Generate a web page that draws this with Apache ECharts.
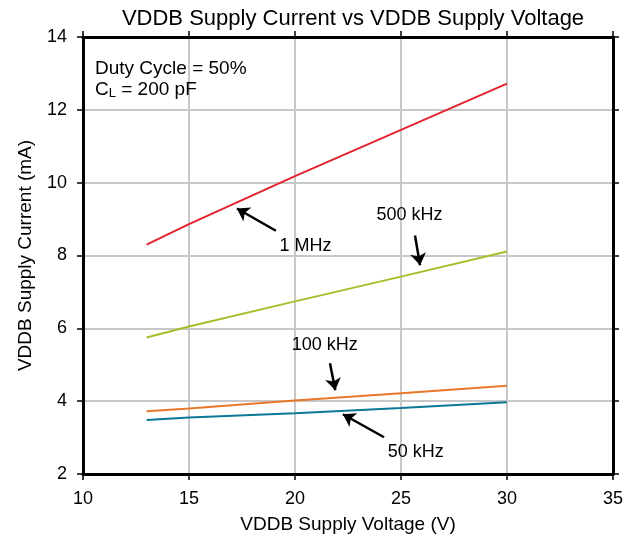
<!DOCTYPE html>
<html>
<head>
<meta charset="utf-8">
<script src="https://cdn.jsdelivr.net/npm/echarts@6/dist/echarts.min.js"></script>
<style>
  html, body { margin: 0; padding: 0; background: #fff; }
  #chart { width: 644px; height: 540px; }
</style>
</head>
<body>
<div id="chart"></div>
<script>
// supply voltage (V)
const voltage = [13, 15, 20, 25, 30];
// supply current (mA) per switching frequency
const current1MHz = [8.3, 8.86, 10.18, 11.45, 12.72];
const current500k = [5.75, 6.05, 6.74, 7.42, 8.11];
const current100k = [3.72, 3.8, 4.02, 4.22, 4.42];
const current50k = [3.48, 3.55, 3.67, 3.81, 3.97];

const seriesNames = ['1 MHz', '500 kHz', '100 kHz', '50 kHz'];
const seriesColors = ['#e2232d', '#a5bf2b', '#e8782a', '#0b7896'];

// callouts: label position, arrow tail, arrow head (data coords)
const calloutText = ['1 MHz', '500 kHz', '100 kHz', '50 kHz'];
const calloutLabel = [[20.5, 8.27], [25.4, 9.1], [21.4, 5.55], [25.7, 2.6]];
const calloutFrom = [[19.1, 8.68], [25.66, 8.55], [21.65, 5.04], [24.2, 3.01]];
const calloutTo = [[17.26, 9.29], [25.9, 7.73], [21.9, 4.3], [22.26, 3.64]];

const font = '"Liberation Sans", Arial, sans-serif';
const chart = echarts.init(document.getElementById('chart'));

const zip = (xs, ys) => xs.map((x, i) => [x, ys[i]]);
const allCurrents = [current1MHz, current500k, current100k, current50k];

const lineSeries = allCurrents.map((ys, i) => ({
  name: seriesNames[i],
  type: 'line',
  data: zip(voltage, ys),
  showSymbol: false,
  lineStyle: { color: seriesColors[i], width: 2 },
  z: 3
}));

const calloutSeries = {
  type: 'scatter',
  symbolSize: 0,
  itemStyle: { opacity: 1 },
  data: calloutLabel.map((p, i) => ({ value: p, name: calloutText[i] })),
  label: {
    show: true,
    position: 'inside',
    formatter: p => p.name,
    color: '#000',
    opacity: 1,
    fontFamily: font,
    fontSize: 18
  },
  markLine: {
    silent: true,
    symbol: ['none', 'arrow'],
    symbolSize: [12, 12],
    label: { show: false },
    lineStyle: { color: '#000', width: 2.5, type: 'solid', opacity: 1 },
    data: calloutFrom.map((f, i) => [{ coord: f }, { coord: calloutTo[i] }])
  },
  z: 4
};

const axisLineStyle = { color: '#000', width: 3 };
const tickStyle = { show: true, length: 6, lineStyle: { color: '#000', width: 1.5 } };

const option = {
  animation: false,
  backgroundColor: '#fff',
  title: {
    text: 'VDDB Supply Current vs VDDB Supply Voltage',
    left: 348,
    textAlign: 'center',
    top: 3,
    textStyle: { fontFamily: font, fontSize: 22, fontWeight: 'normal', color: '#000' }
  },
  grid: { left: 83, right: 31, top: 37, bottom: 66 },
  xAxis: [
    {
      type: 'value', min: 10, max: 35, interval: 5,
      name: 'VDDB Supply Voltage (V)', nameLocation: 'middle', nameGap: 41,
      nameTextStyle: { fontFamily: font, fontSize: 19, color: '#000' },
      axisLine: { onZero: false, lineStyle: axisLineStyle },
      axisTick: tickStyle,
      axisLabel: { fontFamily: font, fontSize: 18, color: '#000', margin: 16 },
      splitLine: { show: true, lineStyle: { color: '#c8c8c8', width: 2 } }
    },
    {
      type: 'value', min: 10, max: 35, interval: 5, position: 'top',
      axisLine: { onZero: false, lineStyle: axisLineStyle },
      axisTick: tickStyle,
      axisLabel: { show: false },
      splitLine: { show: false }
    }
  ],
  yAxis: [
    {
      type: 'value', min: 2, max: 14, interval: 2,
      name: 'VDDB Supply Current (mA)', nameLocation: 'middle', nameGap: 48,
      nameTextStyle: { fontFamily: font, fontSize: 19, color: '#000' },
      axisLine: { onZero: false, lineStyle: axisLineStyle },
      axisTick: tickStyle,
      axisLabel: { fontFamily: font, fontSize: 18, color: '#000', margin: 16 },
      splitLine: { show: true, lineStyle: { color: '#c8c8c8', width: 2 } }
    },
    {
      type: 'value', min: 2, max: 14, interval: 2, position: 'right',
      axisLine: { onZero: false, lineStyle: axisLineStyle },
      axisTick: tickStyle,
      axisLabel: { show: false },
      splitLine: { show: false }
    }
  ],
  graphic: [
    {
      type: 'text',
      left: 95,
      top: 58,
      z: 5,
      style: {
        text: 'Duty Cycle = 50%\n{b|C}{s|L}{b| = 200 pF}',
        fontFamily: font,
        fontSize: 19,
        lineHeight: 21,
        fill: '#000',
        rich: {
          b: { fontFamily: font, fontSize: 19, fill: '#000', lineHeight: 21 },
          s: { fontFamily: font, fontSize: 13, fill: '#000', verticalAlign: 'bottom', padding: [7, 0, 0, 0] }
        }
      }
    }
  ],
  series: [...lineSeries, calloutSeries]
};

chart.setOption(option);
</script>
</body>
</html>
